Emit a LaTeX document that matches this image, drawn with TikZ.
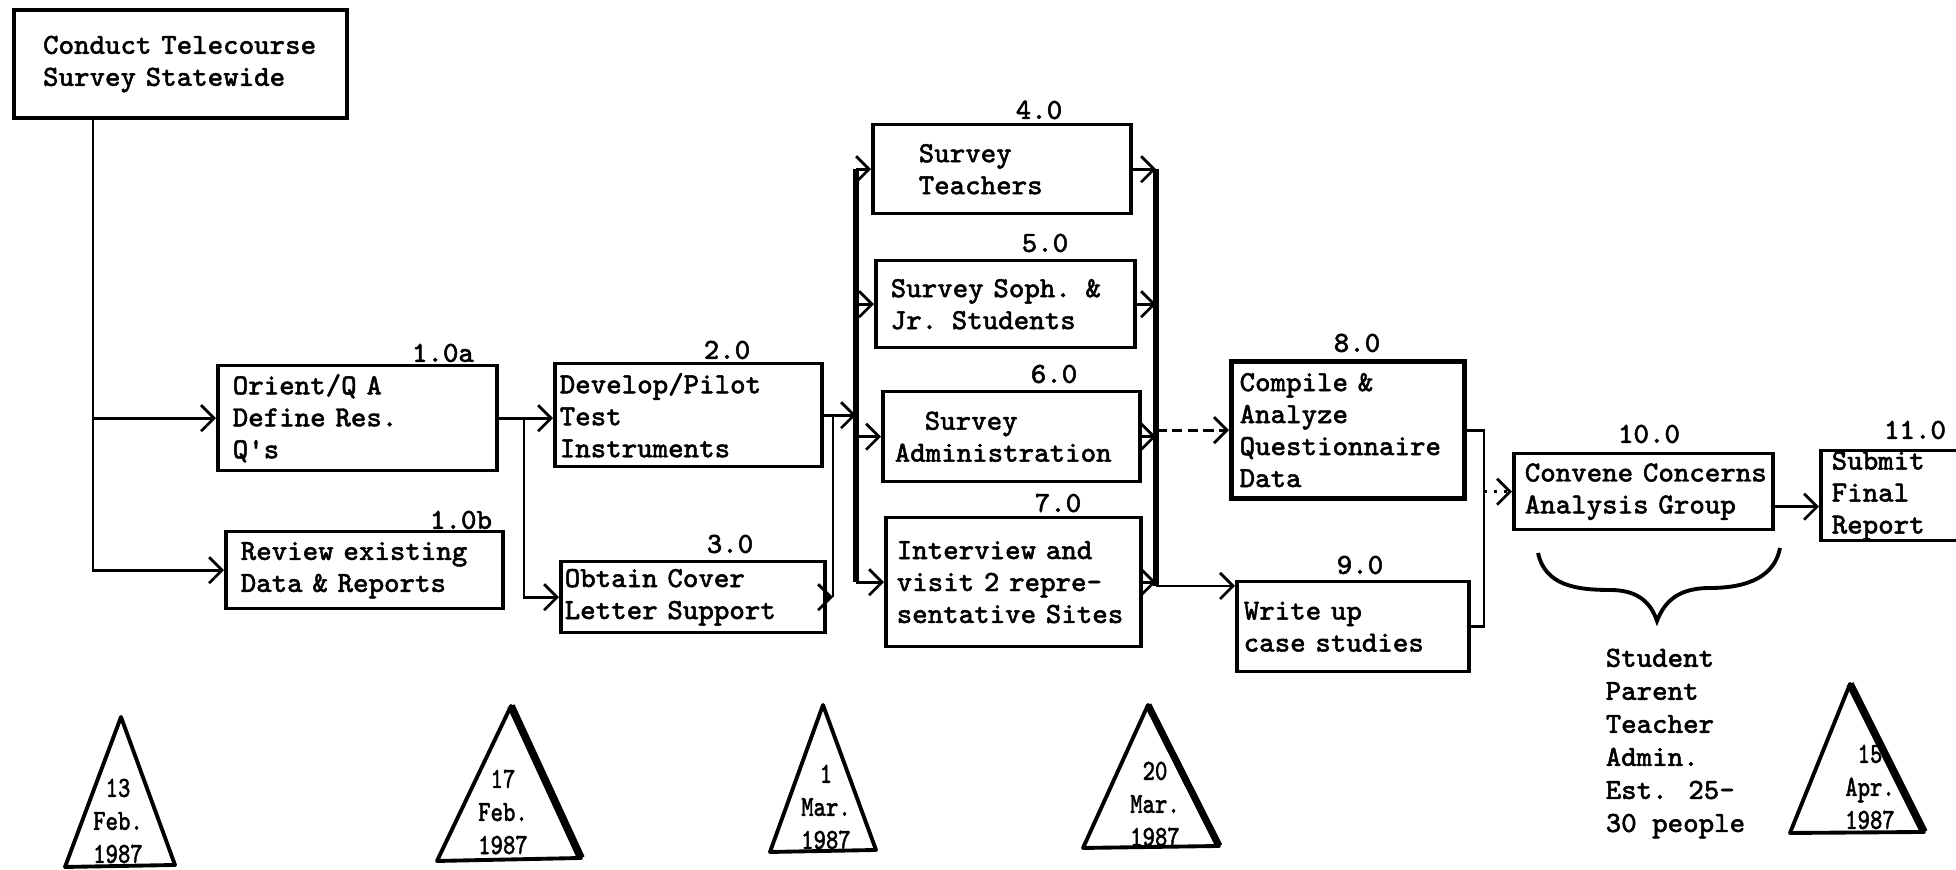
\documentclass[tikz,border=0pt]{standalone}
\usepackage{fontspec}
\newfontfamily\typer{Latin Modern Mono}[FakeBold=1.6]
\usetikzlibrary{arrows.meta}

\begin{document}
\begin{tikzpicture}[>={Straight Barb[length=1.3mm,width=2.6mm]},
  every node/.style={font=\typer\fontsize{8.3}{9.1}\selectfont},
  task/.style={draw,line width=1pt,anchor=north west,align=left,inner ysep=0pt},
  num/.style={inner sep=0pt},
  stamp/.style={align=center,inner sep=0pt,font=\typer\fontsize{8.3}{9.4}\selectfont},
  wire/.style={line width=.8pt},
  bar/.style={line width=1.9pt},
  mile/.style={line width=1.1pt,line join=round}]
  \useasboundingbox (0,0) rectangle (19.56,8.70);
  \clip (0,0) rectangle (19.56,8.70);

  % tasks
  \node[task,inner xsep=.29cm,text width=2.75cm,minimum height=1.08cm,line width=1.2pt] (conduct) at (0.12,8.62)
    {\mbox{Conduct Telecourse}\\Survey Statewide};
  \node[task,inner xsep=.15cm,text width=2.49cm,minimum height=1.05cm] (orient) at (2.16,5.06)
    {Orient/Q A\\Define Res.\\Q\textquotesingle s};
  \node[task,inner xsep=.15cm,text width=2.47cm,minimum height=.77cm] (review) at (2.24,3.40)
    {\mbox{Review existing}\\Data \& Reports};
  \node[task,inner xsep=.05cm,text width=2.57cm,minimum height=1.03cm] (develop) at (5.53,5.08)
    {Develop/Pilot\\Test\\Instruments};
  \node[task,inner xsep=.04cm,text width=2.56cm,minimum height=.71cm] (obtain) at (5.59,3.10)
    {Obtain Cover\\\mbox{Letter Support}};
  \node[task,inner xsep=.46cm,text width=1.66cm,minimum height=.89cm] (teachers) at (8.71,7.47)
    {Survey\\Teachers};
  \node[task,inner xsep=.15cm,text width=2.29cm,minimum height=.87cm] (students) at (8.74,6.11)
    {\mbox{Survey Soph. \&}\\Jr. Students};
  \node[task,inner xsep=.12cm,text width=2.33cm,minimum height=.90cm] (admin) at (8.81,4.80)
    {\hspace*{.3cm}Survey\\\mbox{Administration}};
  \node[task,inner xsep=.11cm,text width=2.33cm,minimum height=1.29cm] (visit) at (8.84,3.54)
    {Interview and\\visit 2 repre-\\\mbox{sentative Sites}};
  \node[task,inner xsep=.08cm,text width=2.17cm,minimum height=1.37cm,line width=1.5pt] (compile) at (12.29,5.11)
    {Compile \&\\Analyze\\\mbox{Questionnaire}\\Data};
  \node[task,inner xsep=.07cm,text width=2.18cm,minimum height=.90cm] (write) at (12.35,2.90)
    {Write up\\case studies};
  \node[task,inner xsep=.11cm,text width=2.37cm,minimum height=.76cm] (convene) at (15.12,4.18)
    {\mbox{Convene Concerns}\\Analysis Group};
  \node[task,inner xsep=.11cm,text width=1.78cm,minimum height=.90cm] (submit) at (18.19,4.21)
    {Submit\\Final\\Report};

  % task numbers
  \node[num] (n1a) at (4.43,5.17) {1.0a};
  \node[num] (n1b) at (4.61,3.50) {1.0b};
  \node[num] (n2) at (7.27,5.20) {2.0};
  \node[num] (n3) at (7.30,3.26) {3.0};
  \node[num] (n4) at (10.39,7.60) {4.0};
  \node[num] (n5) at (10.45,6.27) {5.0};
  \node[num] (n6) at (10.54,4.96) {6.0};
  \node[num] (n7) at (10.58,3.67) {7.0};
  \node[num] (n8) at (13.57,5.27) {8.0};
  \node[num] (n9) at (13.60,3.05) {9.0};
  \node[num] (n10) at (16.49,4.36) {10.0};
  \node[num] (n11) at (19.15,4.40) {11.0};

  % junctions
  \coordinate (split) at (0.93,0);
  \coordinate (fork) at (5.24,0);
  \coordinate (merge) at (8.33,0);
  \coordinate (barL) at (8.56,0);
  \coordinate (barR) at (11.56,0);
  \coordinate (rbot) at (11.56,2.84);
  \coordinate (join) at (14.84,0);

  \draw[wire,->] (conduct.south -| split) |- (review.west);
  \draw[wire,->] (split |- orient.west) -- (orient.west);
  \draw[wire,->] (orient.east) -- (orient.east -| develop.west);
  \draw[wire,->] (fork |- orient.east) |- (obtain.west);
  \draw[wire,->] (develop.east) -- (develop.east -| barL);
  \draw[wire] (merge |- develop.east) -- (merge |- obtain.east);
  \draw[wire,->] (obtain.east) -- (obtain.east -| merge);

  \draw[bar] (barL |- teachers.west) -- (barL |- visit.west);
  \draw[wire,->] (barL |- teachers.west) -- (teachers.west);
  \draw[wire,->] (barL |- students.west) -- (students.west);
  \draw[wire,->] (barL |- admin.west) -- (admin.west);
  \draw[wire,->] (barL |- visit.west) -- (visit.west);

  \draw[bar] (barR |- teachers.east) -- (rbot);
  \draw[wire,->] (teachers.east) -- (teachers.east -| barR);
  \draw[wire,->] (students.east) -- (students.east -| barR);
  \draw[wire,->] (admin.east) -- (admin.east -| barR);
  \draw[wire,->] (visit.east) -- (visit.east -| barR);
  \draw[wire,->,dash pattern=on 3pt off 1.5pt] (compile.west -| barR) -- (compile.west);
  \draw[wire,->] (rbot) -- (rbot -| write.west);

  \draw[wire] (compile.east) -- (compile.east -| join) -- (write.east -| join) -- (write.east);
  \draw[wire,->,dotted] (convene.west -| join) -- (convene.west);
  \draw[wire,->] ([yshift=-.15cm]convene.east) -- ([yshift=-.15cm]convene.east -| submit.west);

  % group under 10.0
  \draw[line width=1.1pt] (15.38,3.17) .. controls (15.45,2.85) and (15.75,2.80) .. (16.10,2.80)
    .. controls (16.35,2.80) and (16.50,2.70) .. (16.57,2.49)
    .. controls (16.65,2.70) and (16.80,2.82) .. (17.10,2.82)
    .. controls (17.50,2.82) and (17.75,2.95) .. (17.80,3.22);
  \node[stamp,align=left,anchor=north west] (group) at (16.05,2.22)
    {Student\\Parent\\Teacher\\Admin.\\Est. 25-\\30 people};

  % milestones
  \draw[mile] (1.21,1.53) -- (0.65,0.03) -- (1.75,0.05) -- cycle;
  \node[stamp,xscale=.8] (d1) at (1.18,0.49) {13\\Feb.\\1987};
  \draw[mile] (5.11,1.64) -- (4.37,0.09) -- (5.81,0.12) -- cycle;
  \draw[line width=2.2pt] (5.11,1.64) -- (5.81,0.12);
  \node[stamp,xscale=.8] (d2) at (5.03,0.58) {17\\Feb.\\1987};
  \draw[mile] (8.23,1.65) -- (7.70,0.18) -- (8.76,0.20) -- cycle;
  \node[stamp,xscale=.8] (d3) at (8.26,0.63) {1\\Mar.\\1987};
  \draw[mile] (11.48,1.65) -- (10.83,0.22) -- (12.19,0.24) -- cycle;
  \draw[line width=2pt] (11.48,1.65) -- (12.19,0.24);
  \node[stamp,xscale=.8] (d4) at (11.55,0.66) {20\\Mar.\\1987};
  \draw[mile] (18.50,1.86) -- (17.90,0.37) -- (19.24,0.38) -- cycle;
  \draw[line width=2.2pt] (18.50,1.86) -- (19.24,0.38);
  \node[stamp,xscale=.8] (d5) at (18.70,0.83) {15\\Apr.\\1987};
\end{tikzpicture}
\end{document}
